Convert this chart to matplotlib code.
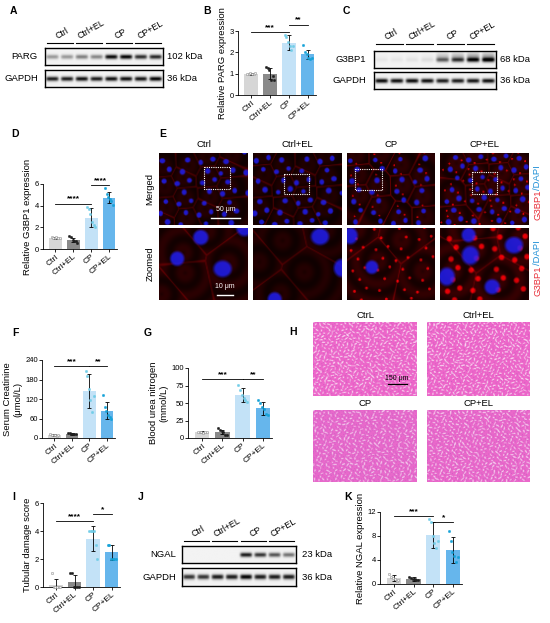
import numpy as np
import matplotlib
matplotlib.use("Agg")
import matplotlib.pyplot as plt
from matplotlib.lines import Line2D
from matplotlib.patches import Rectangle

plt.rcParams['font.family'] = ['Liberation Sans', 'DejaVu Sans']

W, H = 550, 623

# ---- data ------------------------------------------------------------------
groups = ['Ctrl', 'Ctrl+EL', 'CP', 'CP+EL']

parg_mean = [1.0, 1.0, 2.45, 1.9]
parg_err = [0.04, 0.25, 0.35, 0.23]
parg_pts = [[1.0, 0.98, 1.02, 1.0, 0.99, 1.01],
            [1.3, 1.25, 1.15, 0.7, 0.9, 0.7],
            [2.8, 2.7, 2.5, 2.3, 2.1, 2.3],
            [2.33, 2.0, 1.9, 1.75, 1.7, 1.75]]

g3bp1_mean = [1.05, 0.85, 2.9, 4.75]
g3bp1_err = [0.1, 0.2, 0.9, 0.5]
g3bp1_pts = [[1.1, 1.0, 1.05, 1.1, 1.0, 1.05],
             [1.2, 1.1, 0.8, 0.7, 0.7, 0.6],
             [3.9, 3.7, 3.2, 2.5, 2.2, 2.0],
             [5.6, 5.1, 4.8, 4.6, 4.4, 4.1]]

scr_mean = [9, 13, 145, 84]
scr_err = [2, 3, 52, 26]
scr_pts = [[12, 10, 8, 9, 7, 8],
           [16, 15, 13, 12, 11, 12],
           [205, 190, 150, 118, 80, 128],
           [133, 95, 82, 72, 65, 60]]

bun_mean = [8, 8.5, 61, 42.5]
bun_err = [1.5, 3, 10, 9]
bun_pts = [[9, 8, 8, 7, 8, 9],
           [14, 12, 10, 8, 5, 4],
           [76, 68, 62, 57, 54, 52],
           [54, 50, 45, 41, 35, 33]]

tdi_mean = [0.17, 0.33, 3.45, 2.48]
tdi_err = [0.42, 0.5, 0.88, 0.52]
tdi_pts = [[1, 0, 0, 0, 0, 0],
           [1, 1, 0, 0, 0, 0],
           [4, 4, 4, 4, 3, 2],
           [3, 3, 2, 2, 2, 2]]

ngal_mean = [0.95, 0.84, 8.2, 5.7]
ngal_err = [0.5, 0.3, 2.2, 2.2]
ngal_pts = [[1.6, 1.2, 1.0, 0.8, 0.5, 0.6],
            [1.1, 1.0, 0.9, 0.8, 0.7, 0.6],
            [10.8, 10.4, 8.0, 6.8, 6.0, 7.2],
            [8.9, 7.1, 5.4, 4.6, 3.7, 4.5]]

# blot band strength per lane (2 lanes per group)
parg_band = [0.35, 0.35, 0.45, 0.42, 0.92, 0.95, 0.78, 0.8]
gapdh_a = [0.85, 0.85, 0.9, 0.85, 0.9, 0.9, 0.88, 0.95]
g3bp1_band = [0.04, 0.04, 0.05, 0.07, 0.5, 0.65, 0.82, 0.88]
gapdh_c = [0.92, 0.9, 0.92, 0.9, 0.85, 0.85, 0.88, 0.9]
ngal_band = [0.0, 0.0, 0.0, 0.0, 0.85, 0.75, 0.62, 0.5]
gapdh_j = [0.75, 0.75, 0.85, 0.85, 0.95, 0.85, 0.85, 0.85]

bar_colors = ['#d6d6d6', '#8a8a8a', '#c3e2f7', '#66b6ec']
dot_colors = ['#f4f4f4', '#1e1e1e', '#72cde8', '#15a2d8']
dot_edges = ['#777777', '#1e1e1e', '#72cde8', '#15a2d8']
jit = [-0.22, -0.13, -0.04, 0.05, 0.14, 0.23]

fig = plt.figure(figsize=(W / 100, H / 100), dpi=100)


def px_ax(x0, y0, x1, y1):
    return fig.add_axes([x0 / W, 1 - y1 / H, (x1 - x0) / W, (y1 - y0) / H])


def ftext(x, y, s, **kw):
    fig.text(x / W, 1 - y / H, s, **kw)


def fline(x0, x1, y, lw=0.8, color='black'):
    fig.add_artist(Line2D([x0 / W, x1 / W], [1 - y / H, 1 - y / H],
                          color=color, lw=lw))


def bar_panel(box, means, errs, pts, ymax, yticks, sigs, ylabel):
    ax = px_ax(*box)
    x = np.arange(4)
    ax.bar(x, means, width=0.72, color=bar_colors, edgecolor='none', zorder=1)
    ax.errorbar(x, means, yerr=errs, fmt='none', ecolor='black',
                elinewidth=0.6, capsize=1.6, capthick=0.6, zorder=3)
    for i in range(4):
        ax.scatter(x[i] + np.array(jit), pts[i], s=3, c=dot_colors[i],
                   edgecolors=dot_edges[i], linewidths=0.3, zorder=4,
                   clip_on=False)
    ax.set_xlim(-0.7, 3.45)
    ax.set_ylim(0, ymax)
    ax.set_yticks(yticks)
    ax.set_xticks(x)
    ax.set_xticklabels(groups, rotation=40, ha='right',
                       rotation_mode='anchor', fontsize=6)
    ax.tick_params(axis='y', labelsize=5.5)
    ax.tick_params(length=2, width=0.6, pad=1)
    for s in ['top', 'right']:
        ax.spines[s].set_visible(False)
    for s in ['left', 'bottom']:
        ax.spines[s].set_linewidth(0.6)
    for i, j, y, t in sigs:
        ax.plot([i, j], [y, y], color='black', lw=0.6, clip_on=False)
        ax.text((i + j) / 2, y + ymax * 0.015, t, ha='center', va='bottom',
                fontsize=6, fontweight='bold', clip_on=False)
    ax.set_ylabel(ylabel, fontsize=6.8, labelpad=2)
    return ax


def band_image(strength, smear=0.0):
    wi, hi = 160, 24
    xx = np.arange(wi) + 0.5
    yy = np.arange(hi) + 0.5
    lw = wi / 8
    img = np.full((hi, wi), 0.05)
    for k, v in enumerate(strength):
        c = (k + 0.5) * lw
        px = np.exp(-((xx - c) / (0.42 * lw)) ** 6)
        py = np.exp(-((yy - hi * 0.52) / (hi * 0.13)) ** 2)
        if smear > 0:
            py = py + smear * np.exp(-((yy - hi * 0.35) / (hi * 0.25)) ** 2)
        img += v * np.outer(py, px)
    return np.clip(img, 0, 1)


def blot(x0, x1, rows, label_x, kda_x, line_y):
    for (y0, y1, name, kda, strength, smear) in rows:
        ax = px_ax(x0, y0, x1, y1)
        ax.imshow(band_image(strength, smear), cmap='gray_r', vmin=0, vmax=1,
                  aspect='auto', interpolation='bilinear')
        ax.set_xticks([])
        ax.set_yticks([])
        for s in ax.spines.values():
            s.set_linewidth(1.0)
        ftext(label_x, (y0 + y1) / 2, name, ha='right', va='center',
              fontsize=6.8)
        ftext(kda_x, (y0 + y1) / 2, kda, ha='left', va='center', fontsize=6.8)
    lw = (x1 - x0) / 8
    for g in range(4):
        a = x0 + (2 * g + 0.12) * lw
        b = x0 + (2 * g + 1.88) * lw
        fline(a, b, line_y)
        ftext((a + b) / 2 + 2, line_y - 2, groups[g], ha='center',
              va='bottom', rotation=30, fontsize=6.3)


def r2(n, start):
    k = np.arange(start, start + n)
    return np.column_stack([(0.5 + k * 0.7548777) % 1,
                            (0.5 + k * 0.5698403) % 1])


def fluor(n_cells, n_nuc, nuc_r, red_bg, red_mem, n_punc, punc_r, off,
          wi=90, hi=72):
    yy, xx = np.mgrid[0:hi, 0:wi] + 0.5
    cs = r2(n_cells, off) * [wi, hi]
    d = np.sqrt((xx[..., None] - cs[:, 0]) ** 2 + (yy[..., None] - cs[:, 1]) ** 2)
    ds = np.sort(d, axis=2)
    mem = np.exp(-((ds[..., 1] - ds[..., 0]) / 1.1) ** 2)
    cyto = 0.5 + 0.5 * np.sin(ds[..., 0] * 0.35)
    red = red_bg * (0.6 + 0.8 * cyto) + red_mem * mem
    ns = r2(n_nuc, off + 37) * [wi, hi]
    k = np.arange(n_nuc)
    sx = 1.0 + 0.35 * ((k * 0.4142) % 1)
    sy = 1.0 + 0.35 * ((k * 0.7071) % 1)
    dn = np.sqrt(((xx[..., None] - ns[:, 0]) / sx) ** 2 +
                 ((yy[..., None] - ns[:, 1]) / sy) ** 2)
    blue = np.clip((nuc_r - dn.min(axis=2)) / (0.3 * nuc_r + 0.5) + 0.3, 0, 1)
    if n_punc > 0:
        ps = r2(n_punc, off + 91) * [wi, hi]
        dp = np.sqrt((xx[..., None] - ps[:, 0]) ** 2 + (yy[..., None] - ps[:, 1]) ** 2)
        red = red + 0.7 * np.clip((punc_r - dp.min(axis=2)) / (0.6 * punc_r) + 0.3, 0, 1)
    red = np.clip(red, 0, 1)
    rgb = np.zeros((hi, wi, 3))
    rgb[..., 0] = red * (1 - 0.8 * blue) + 0.1 * blue
    rgb[..., 1] = 0.1 * blue
    rgb[..., 2] = 0.8 * blue + 0.03 * red
    return rgb


def he_image(n_lum, n_nuc, off, purple=0.0, wi=208, hi=148):
    img = np.zeros((hi, wi, 3))
    img[...] = [0.93, 0.40, 0.79]
    yy, xx = np.mgrid[0:hi, 0:wi] + 0.5
    ls = r2(n_lum, off) * [wi, hi]
    for k, (cx, cy) in enumerate(ls):
        ang = ((k * 0.2360679 + (k * k) * 0.0731 + off * 0.13) % 1) * np.pi
        a = 1.8 + 2.8 * ((k * k * 0.0417 + k * 0.3) % 1)
        b = 0.7 + 0.5 * ((k * 0.7320) % 1)
        x0, x1 = int(max(cx - 7, 0)), int(min(cx + 7, wi))
        y0, y1 = int(max(cy - 7, 0)), int(min(cy + 7, hi))
        dx = xx[y0:y1, x0:x1] - cx
        dy = yy[y0:y1, x0:x1] - cy
        u = (dx * np.cos(ang) + dy * np.sin(ang)) / a
        v = (-dx * np.sin(ang) + dy * np.cos(ang)) / b
        m = (u ** 2 + v ** 2) < 1
        img[y0:y1, x0:x1][m] = [0.98, 0.90, 0.96]
    nsd = r2(n_nuc, off + 500) * [wi - 1, hi - 1]
    for (cx, cy) in nsd:
        img[int(cy), int(cx)] = [0.50, 0.30, 0.70]
    if purple > 0:
        img = img * (1 - purple) + purple * np.array([0.78, 0.50, 0.85])
    return img


# ---- panel letters ----------------------------------------------------------
for lab, x, y in [('A', 10, 11), ('B', 203, 11), ('C', 343, 11),
                  ('D', 11, 134), ('E', 159, 134), ('F', 12, 333),
                  ('G', 144, 333), ('H', 289, 332), ('I', 12, 497),
                  ('J', 138, 497), ('K', 344, 497)]:
    ftext(x, y, lab, fontsize=7.5, fontweight='bold', ha='left', va='center')

# ---- A / C / J blots --------------------------------------------------------
blot(45, 163, [(48, 65, 'PARG', '102 kDa', parg_band, 0.0),
               (70, 87, 'GAPDH', '36 kDa', gapdh_a, 0.0)], 38, 167, 43)
blot(374, 496, [(51, 68, 'G3BP1', '68 kDa', g3bp1_band, 0.35),
                (72, 89, 'GAPDH', '36 kDa', gapdh_c, 0.0)], 366, 500, 44)
blot(182, 296, [(546, 563, 'NGAL', '23 kDa', ngal_band, 0.0),
                (568, 586, 'GAPDH', '36 kDa', gapdh_j, 0.0)], 176, 302, 541)

# ---- bar charts -------------------------------------------------------------
bar_panel((238, 31, 316, 95), parg_mean, parg_err, parg_pts, 3, [0, 1, 2, 3],
          [(0, 2, 2.95, '***'), (2, 3, 3.3, '**')], 'Relative PARG expression')
bar_panel((43, 184, 117, 249), g3bp1_mean, g3bp1_err, g3bp1_pts, 6,
          [0, 2, 4, 6], [(0, 2, 4.2, '****'), (2, 3, 5.9, '****')],
          'Relative G3BP1 expression')
bar_panel((42, 360, 115, 438), scr_mean, scr_err, scr_pts, 240,
          [0, 60, 120, 180, 240], [(0, 2, 221, '***'), (2, 3, 221, '**')],
          'Serum Creatinine\n(μmol/L)')
bar_panel((188, 368, 272, 438), bun_mean, bun_err, bun_pts, 100,
          [0, 25, 50, 75, 100], [(0, 2, 84, '***'), (2, 3, 84, '**')],
          'Blood urea nitrogen\n(mmol/L)')
bar_panel((43, 503, 120, 587), tdi_mean, tdi_err, tdi_pts, 6, [0, 2, 4, 6],
          [(0, 2, 4.7, '****'), (2, 3, 5.2, '*')], 'Tubular damage score')
bar_panel((380, 512, 462, 584), ngal_mean, ngal_err, ngal_pts, 12,
          [0, 4, 8, 12], [(0, 2, 11.3, '***'), (2, 3, 10.3, '*')],
          'Relative NGAL expression')

# ---- E immunofluorescence ---------------------------------------------------
cols = [(159, 248), (253, 342), (347, 435), (440, 529)]
rows_e = [(153, 225), (228, 300)]
merged_par = [(16, 38, 2.4, 0.10, 0.22, 0, 1.0, 3),
              (16, 40, 2.4, 0.09, 0.24, 0, 1.0, 11),
              (12, 30, 2.4, 0.12, 0.30, 25, 1.0, 19),
              (14, 40, 2.4, 0.14, 0.26, 55, 1.1, 27)]
zoom_par = [(5, 4, 7.5, 0.12, 0.22, 0, 2.0, 5),
            (5, 3, 7.5, 0.10, 0.20, 0, 2.0, 13),
            (4, 2, 7.0, 0.14, 0.24, 40, 1.6, 21),
            (5, 5, 7.5, 0.15, 0.20, 30, 3.0, 29)]
dash_boxes = [(0.50, 0.19, 0.79, 0.49), (0.34, 0.28, 0.62, 0.56),
              (0.09, 0.21, 0.39, 0.51), (0.35, 0.26, 0.64, 0.56)]
for c, (x0, x1) in enumerate(cols):
    ftext((x0 + x1) / 2, 144, groups[c], ha='center', va='center',
          fontsize=6.8)
    for r, (y0, y1) in enumerate(rows_e):
        ax = px_ax(x0, y0, x1, y1)
        p = merged_par[c] if r == 0 else zoom_par[c]
        ax.imshow(fluor(*p), aspect='auto', interpolation='bilinear')
        ax.set_xticks([])
        ax.set_yticks([])
        for s in ax.spines.values():
            s.set_visible(False)
        if r == 0:
            bx = dash_boxes[c]
            ax.add_patch(Rectangle((bx[0] * 90, bx[1] * 72),
                                   (bx[2] - bx[0]) * 90, (bx[3] - bx[1]) * 72,
                                   fill=False, ec='white', lw=0.8, ls=(0, (1, 1))))
ftext(150, 189, 'Merged', rotation=90, ha='center', va='center', fontsize=6.8)
ftext(150, 264, 'Zoomed', rotation=90, ha='center', va='center', fontsize=6.8)
for yc in [190, 265]:
    ftext(538, yc, 'G3BP1', rotation=90, ha='center', va='top', fontsize=6.8,
          color='#e8303a')
    ftext(538, yc, '/DAPI', rotation=90, ha='center', va='bottom',
          fontsize=6.8, color='#1f8fd6')
fline(211, 240, 218, lw=1.0, color='white')
ftext(225.5, 213, '50 μm', ha='center', va='bottom', fontsize=5,
      color='white')
fline(217, 233, 295, lw=1.0, color='white')
ftext(225, 290, '10 μm', ha='center', va='bottom', fontsize=5,
      color='white')

# ---- H histology ------------------------------------------------------------
h_titles = ['CtrL', 'Ctrl+EL', 'CP', 'CP+EL']
h_boxes = [(313, 322, 417, 396), (427, 322, 530, 396),
           (313, 410, 417, 482), (427, 410, 530, 482)]
h_par = [(520, 700, 2, 0.0), (520, 700, 7, 0.0),
         (420, 1300, 13, 0.12), (460, 1100, 17, 0.08)]
for k, (x0, y0, x1, y1) in enumerate(h_boxes):
    ax = px_ax(x0, y0, x1, y1)
    ax.imshow(he_image(*h_par[k]), aspect='auto', interpolation='bilinear')
    ax.set_xticks([])
    ax.set_yticks([])
    for s in ax.spines.values():
        s.set_visible(False)
    ftext((x0 + x1) / 2, y0 - 7, h_titles[k], ha='center', va='center',
          fontsize=6.8)
fline(388, 407, 384, lw=0.9)
ftext(397, 378, '150 μm', ha='center', va='center', fontsize=5)

fig.savefig('out.png', dpi=100)
